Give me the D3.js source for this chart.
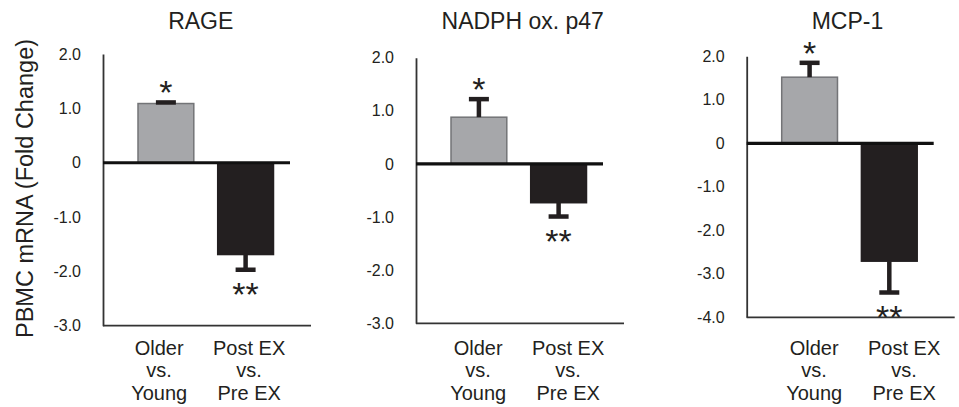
<!DOCTYPE html>
<html>
<head>
<meta charset="utf-8">
<script src="https://cdn.jsdelivr.net/npm/d3@7"></script>
<style>
  html, body { margin: 0; padding: 0; background: #fff; }
  text { font-family: "Liberation Sans", Arial, Helvetica, sans-serif; fill: #231f20; }
</style>
</head>
<body>
<svg id="chart" width="959" height="407"></svg>
<script>
// ---- data ----
const panelTitles = ["RAGE", "NADPH ox. p47", "MCP-1"];
const categories = ["Older vs. Young", "Post EX vs. Pre EX"];
const categoryLines = [["Older", "vs.", "Young"], ["Post EX", "vs.", "Pre EX"]];
const rageMeans = [1.09, -1.69];
const rageErrors = [0.02, 0.28];
const nadphMeans = [0.88, -0.73];
const nadphErrors = [0.34, 0.26];
const mcpMeans = [1.52, -2.71];
const mcpErrors = [0.33, 0.72];
const significance = ["*", "**"];
const rageTicks = [-3, -2, -1, 0, 1, 2];
const nadphTicks = [-3, -2, -1, 0, 1, 2];
const mcpTicks = [-4, -3, -2, -1, 0, 1, 2];
const yLabel = "PBMC mRNA (Fold Change)";

// ---- layout ----
const panels = [
  { title: panelTitles[0], means: rageMeans, errors: rageErrors, ticks: rageTicks,
    axisX: 103, yBottom: 325.7, yTop: 54.1, titleShift: -5, labelShift: -1.6 },
  { title: panelTitles[1], means: nadphMeans, errors: nadphErrors, ticks: nadphTicks,
    axisX: 416, yBottom: 323.3, yTop: 57.7, titleShift: 4, labelShift: 4.4 },
  { title: panelTitles[2], means: mcpMeans, errors: mcpErrors, ticks: mcpTicks,
    axisX: 746.7, yBottom: 317.3, yTop: 56.3, titleShift: -2, labelShift: 9.7 }
];
const ink = "#231f20";
const barFill = ["#a6a7aa", "#231f20"];
const barStroke = ["#737477", "#231f20"];

const svg = d3.select("#chart");

// y-axis label
svg.append("text")
  .attr("transform", "translate(33,188.5) rotate(-90)")
  .attr("text-anchor", "middle")
  .style("font-size", "23.5px")
  .text(yLabel);

panels.forEach(p => {
  const g = svg.append("g");
  const domain = d3.extent(p.ticks);
  const y = d3.scaleLinear().domain(domain).range([p.yBottom, p.yTop]);
  const x = d3.scaleBand().domain(categories)
    .range([p.axisX + 35, p.axisX + 170.5]).paddingInner(0.3).paddingOuter(0);
  const mid = (x.range()[0] + x.range()[1]) / 2;
  const xl = d3.scalePoint().domain(categories)
    .range([mid - 45 + p.labelShift, mid + 45 + p.labelShift]);

  // bars
  g.selectAll("rect.bar").data(categories).join("rect")
    .attr("class", "bar")
    .attr("x", d => x(d))
    .attr("width", x.bandwidth())
    .attr("y", (d, i) => y(Math.max(0, p.means[i])))
    .attr("height", (d, i) => Math.abs(y(p.means[i]) - y(0)))
    .attr("fill", (d, i) => barFill[i])
    .attr("stroke", (d, i) => barStroke[i])
    .attr("stroke-width", 1.5);

  // error bars
  categories.forEach((c, i) => {
    const cx = x(c) + x.bandwidth() / 2;
    const m = p.means[i];
    const end = m + Math.sign(m) * p.errors[i];
    g.append("line")
      .attr("x1", cx).attr("x2", cx)
      .attr("y1", y(m)).attr("y2", y(end))
      .attr("stroke", ink).attr("stroke-width", 4.5);
    g.append("line")
      .attr("x1", cx - 10).attr("x2", cx + 10)
      .attr("y1", y(end)).attr("y2", y(end))
      .attr("stroke", ink).attr("stroke-width", 4.5);
    g.append("text")
      .attr("x", cx)
      .attr("y", m >= 0 ? y(end) + 2 : y(end) + 36)
      .attr("text-anchor", "middle")
      .style("font-size", "34px")
      .text(significance[i]);
  });

  // y axis
  const axis = d3.axisLeft(y).tickValues(p.ticks)
    .tickSize(0).tickPadding(22)
    .tickFormat(v => v === 0 ? "0" : v.toFixed(1));
  const ag = g.append("g").attr("transform", `translate(${p.axisX},0)`).call(axis);
  ag.select(".domain").attr("stroke", "#333").attr("stroke-width", 1.8);
  ag.selectAll(".tick text")
    .style("font-size", "16px")
    .style("font-family", '"Liberation Sans", Arial, sans-serif')
    .attr("fill", ink);

  // bottom axis line
  g.append("line")
    .attr("x1", p.axisX).attr("x2", p.axisX + 208)
    .attr("y1", y(domain[0])).attr("y2", y(domain[0]))
    .attr("stroke", "#333").attr("stroke-width", 1.8);

  // zero line
  g.append("line")
    .attr("x1", p.axisX).attr("x2", p.axisX + 187)
    .attr("y1", y(0)).attr("y2", y(0))
    .attr("stroke", "#111").attr("stroke-width", 3.2);

  // title
  g.append("text")
    .attr("x", mid + p.titleShift).attr("y", 29)
    .attr("text-anchor", "middle")
    .style("font-size", "23px")
    .text(p.title);

  // category labels
  categories.forEach((c, i) => {
    const t = g.append("text")
      .attr("x", xl(c)).attr("y", 355)
      .attr("text-anchor", "middle")
      .style("font-size", "20px");
    categoryLines[i].forEach((ln, k) => {
      t.append("tspan").attr("x", xl(c)).attr("y", 355 + k * 22.3).text(ln);
    });
  });
});
</script>
</body>
</html>
